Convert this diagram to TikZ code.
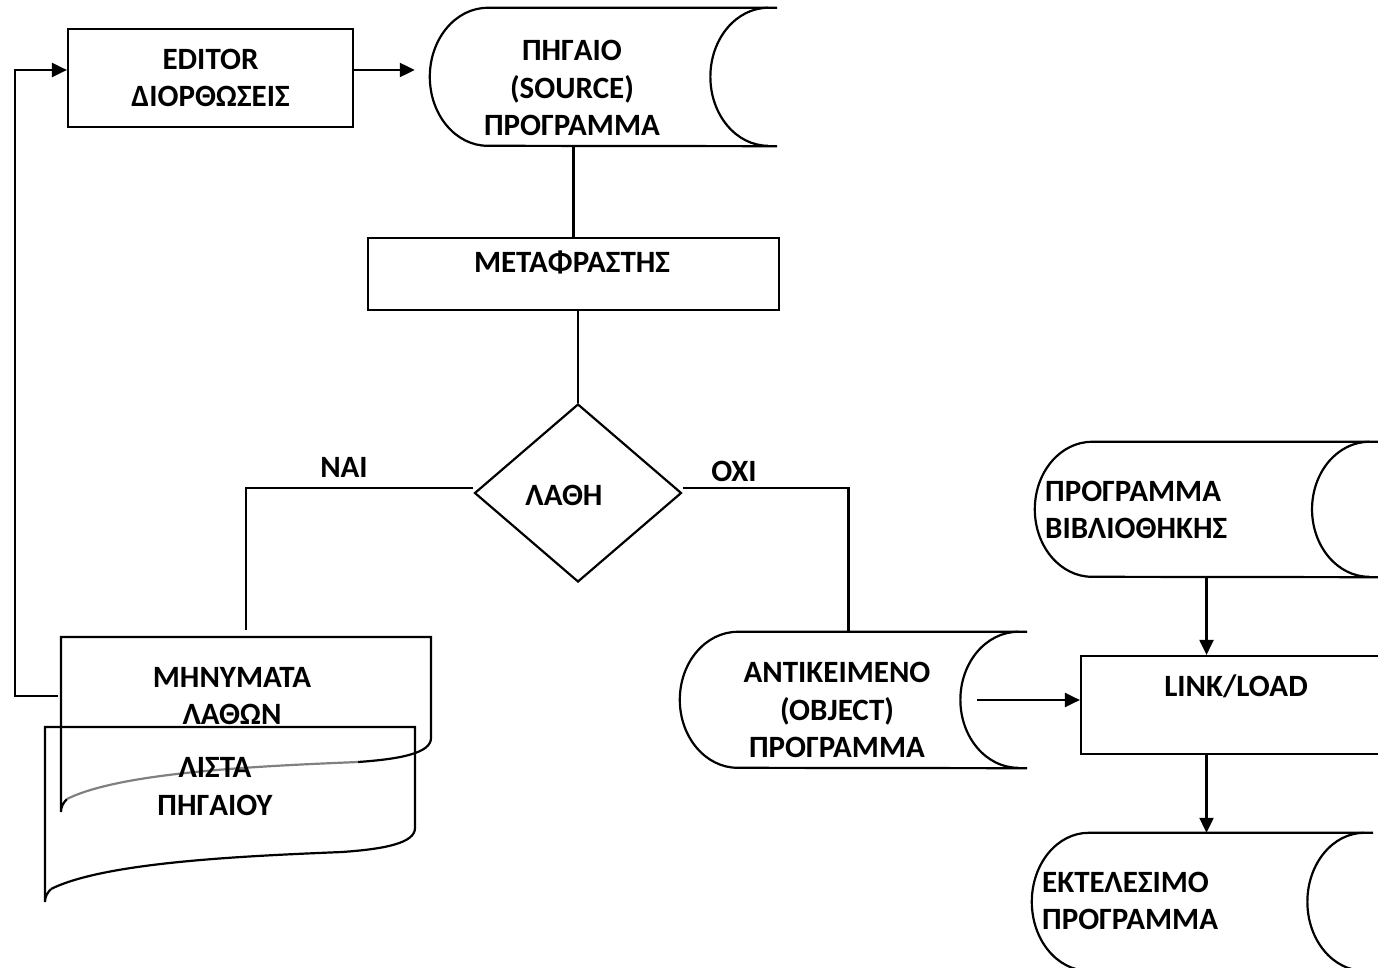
\documentclass[tikz,border=0pt]{standalone}
\usepackage{fontspec}
\setmainfont{Carlito}
\usepackage{tikz}
\usetikzlibrary{calc,arrows.meta,shapes.geometric}
\tikzset{
  base/.style={draw=black, line width=2.2pt, line join=miter},
  arr/.style={base, -{Triangle[length=15pt,width=14pt]}},
  box/.style={base, rectangle, inner sep=0pt},
  lab/.style={font=\fontsize{31}{37.5}\selectfont\bfseries, align=center, inner sep=0pt},
}
% name, left x, top y, width, height
\newcommand{\storeshape}[5]{%
  \node[inner sep=0pt, minimum width=#4pt, minimum height=#5pt] (#1) at (#2+#4/2,#3+#5/2) {};
  \draw[base] (#1.north east) -- ([xshift=#4pt/6]#1.north west)
    arc[start angle=90, end angle=270, x radius=#4pt/6, y radius=#5pt/2]
    -- (#1.south east);
  \draw[base] ([xshift=-9pt]#1.north east)
    arc[start angle=90, end angle=270, x radius=#4pt/6, y radius=#5pt/2];
}
% name, left x, top y, colour of the middle of the wave
\newcommand{\docshape}[4]{%
  \node[inner sep=0pt, minimum width=370pt, minimum height=101pt, anchor=north west] (#1) at (#2,#3) {};
  \draw[base] (#2+6,#3+162) .. controls (#2+2,#3+166) and (#2,#3+170) .. (#2,#3+175)
    -- (#2,#3) -- (#2+370,#3) -- (#2+370,#3+101)
    .. controls (#2+370,#3+116) and (#2+340,#3+122) .. (#2+297,#3+125);
  \draw[base, draw=#4] (#2+297,#3+125) .. controls (#2+200,#3+129) and (#2+60,#3+135) .. (#2+6,#3+162);
}

\begin{document}
\begin{tikzpicture}[x=1pt,y=-1pt]
  \useasboundingbox (0,0) rectangle (1378,968);

  \node[box, lab, minimum width=285pt, minimum height=98pt] (ed) at (210.5,78) {EDITOR\\ΔΙΟΡΘΩΣΕΙΣ};
  \storeshape{src}{430}{8}{347}{138}
  \node[lab] (src-t) at (572,88) {ΠΗΓΑΙΟ\\(SOURCE)\\ΠΡΟΓΡΑΜΜΑ};

  \node[box, minimum width=411pt, minimum height=72pt] (trans) at (573.5,274) {};
  \node[lab] (trans-t) at (572,262) {ΜΕΤΑΦΡΑΣΤΗΣ};

  \node[base, diamond, minimum width=207pt, minimum height=178pt, inner sep=0pt] (dia) at (578,493) {};
  \node[lab] (dia-t) at (564,495) {ΛΑΘΗ};
  \node[lab] (yes) at (344,467) {ΝΑΙ};
  \node[lab] (no) at (734,471) {ΟΧΙ};

  \docshape{msg}{61}{637}{gray}
  \node[lab] (msg-t) at (232,696) {ΜΗΝΥΜΑΤΑ\\ΛΑΘΩΝ};
  \docshape{list}{45}{727}{black}
  \node[lab] (list-t) at (215,786.5) {ΛΙΣΤΑ\\ΠΗΓΑΙΟΥ};

  \storeshape{obj}{680}{632}{347}{136}
  \node[lab] (obj-t) at (837,710) {ΑΝΤΙΚΕΙΜΕΝΟ\\(OBJECT)\\ΠΡΟΓΡΑΜΜΑ};

  \storeshape{lib}{1035}{442}{343}{135}
  \node[lab, align=left, anchor=west] (lib-t) at (1045,510) {ΠΡΟΓΡΑΜΜΑ\\ΒΙΒΛΙΟΘΗΚΗΣ};

  \node[box, minimum width=310pt, minimum height=98pt] (link) at (1236,705) {};
  \node[lab] (link-t) at (1236,686) {LINK/LOAD};

  \storeshape{exec}{1032}{833}{341}{138}
  \node[lab, align=left, anchor=west] (exec-t) at (1042,901) {ΕΚΤΕΛΕΣΙΜΟ\\ΠΡΟΓΡΑΜΜΑ};

  % connectors
  \coordinate (back) at (15,696);
  \draw[arr, shorten >=15pt] ($(ed.east)+(0,-8)$) -- ($(ed.east -| src.west)+(0,-8)$);
  \draw[base] (trans.north) -- (trans.north |- src.south);
  \draw[base] (trans.south -| dia.north) -- (dia.north);
  \draw[base, shorten >=7pt] ($(dia.west)+(0,-5)$) -| (msg.north);
  \draw[base] ($(dia.east)+(0,-5)$) -| ($(obj.north)+(-5,0)$);
  \draw[arr] ($(back -| msg.west)+(-3,0)$) -- (back) |- ($(ed.west)+(0,-8)$);
  \draw[arr] ($(obj.east)+(-50,0)$) -- (obj.east -| link.west);
  \draw[arr] (lib.south) -- (lib.south |- link.north);
  \draw[arr] (link.south -| lib.south) -- (exec.north -| lib.south);
\end{tikzpicture}
\end{document}
